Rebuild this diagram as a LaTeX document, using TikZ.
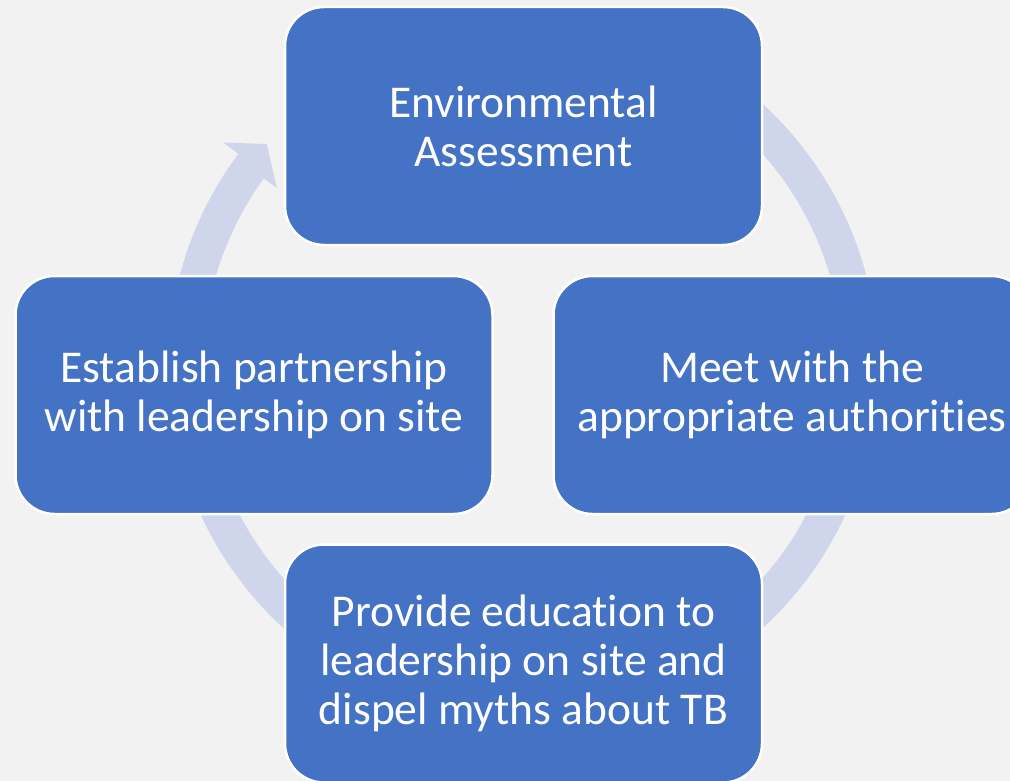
\documentclass[tikz,border=0pt]{standalone}
\usepackage{fontspec}
\setmainfont{Carlito}[Ligatures=NoCommon]
\definecolor{bggray}{HTML}{F2F2F2}
\definecolor{boxblue}{HTML}{4472C4}
\definecolor{ringblue}{HTML}{CFD5EA}
\begin{document}
\begin{tikzpicture}[x=1pt,y=1pt,
  stepbox/.style={draw=white, line width=2.5pt, fill=boxblue,
    rounded corners=39pt, minimum width=477pt, minimum height=238pt,
    inner sep=0pt, align=center, text=white,
    font=\fontsize{45.5}{49}\selectfont}]
\useasboundingbox (0,0) rectangle (1010,-781);
\clip (0,0) rectangle (1010,-781);
\fill[bggray] (0,0) rectangle (1010,-781);

% circular arrow running clockwise behind the four steps
\begin{scope}[shift={(523,-366)}]
  \fill[ringblue] (120:355) arc[start angle=120, end angle=-216.7, radius=355]
    -- (-216.7:374) -- (-220.9:339) -- (-215.9:304) -- (-215.9:320)
    arc[start angle=-215.9, end angle=120, radius=320] -- cycle;
\end{scope}

% the four steps of the cycle
\node[stepbox] (assess) at (523.5,-126) {Environmental\\Assessment};
\node[stepbox] (meet) at (792,-395) {Meet with the\\appropriate authorities};
\node[stepbox] (educate) at (523.5,-663.5) {Provide education to\\leadership on site and\\dispel myths about TB};
\node[stepbox] (partner) at (254,-395) {Establish partnership\\with leadership on site};
\end{tikzpicture}
\end{document}
